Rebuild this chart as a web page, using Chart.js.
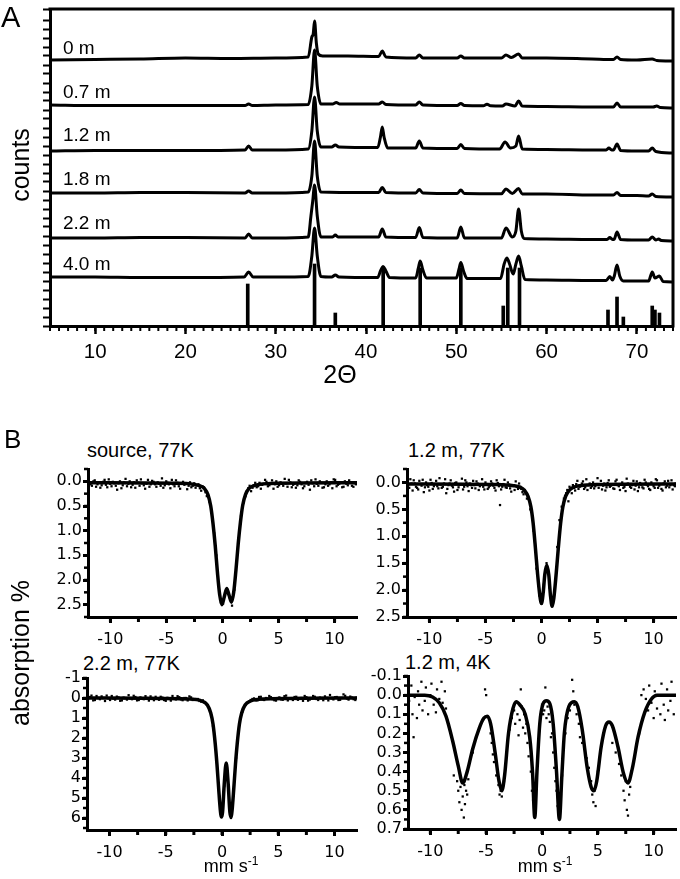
<!DOCTYPE html>
<html>
<head>
<meta charset="utf-8">
<script src="https://cdn.jsdelivr.net/npm/chart.js@4.4.1/dist/chart.umd.min.js"></script>
<style>
body { margin: 0; background: #fff; }
#fig { position: relative; width: 680px; height: 879px; overflow: hidden; font-family: "Liberation Sans", Arial, sans-serif; color: #000; }
#fig canvas { position: absolute; }
.t { position: absolute; line-height: 1; white-space: nowrap; transform: translateY(-50%); }
.c { position: absolute; line-height: 1; white-space: nowrap; transform: translate(-50%, -50%); }
.v { position: absolute; line-height: 1; white-space: nowrap; transform: translate(-50%, -50%) rotate(-90deg); }
.unit { position: absolute; line-height: 1; white-space: nowrap; transform: translate(-50%, -50%); font-size: 18px; z-index: 2; }
.unit sup { font-size: 12px; }
</style>
</head>
<body>
<div id="fig">
  <canvas id="xrd" width="680" height="395" style="left:0;top:0"></canvas>

  <div class="t" style="left:1px;top:17px;font-size:29px">A</div>
  <div class="v" style="left:20px;top:165px;font-size:25px">counts</div>
  <div class="c" style="left:340px;top:374px;font-size:25px">2&Theta;</div>
  <div class="t" style="left:63px;top:47px;font-size:19px">0 m</div>
  <div class="t" style="left:63px;top:91px;font-size:19px">0.7 m</div>
  <div class="t" style="left:63px;top:134px;font-size:19px">1.2 m</div>
  <div class="t" style="left:63px;top:178px;font-size:19px">1.8 m</div>
  <div class="t" style="left:63px;top:222px;font-size:19px">2.2 m</div>
  <div class="t" style="left:63px;top:263px;font-size:19px">4.0 m</div>

  <div class="t" style="left:4px;top:439px;font-size:26px">B</div>
  <div class="v" style="left:20px;top:653px;font-size:25px">absorption %</div>
  <div class="t" style="left:87px;top:450px;font-size:20px">source, 77K</div>
  <div class="t" style="left:408px;top:450px;font-size:20px">1.2 m, 77K</div>
  <div class="t" style="left:83px;top:663px;font-size:20px">2.2 m, 77K</div>
  <div class="t" style="left:405px;top:662px;font-size:20px">1.2 m, 4K</div>
  <div class="unit" style="left:231px;top:865px">mm s<sup>-1</sup></div>
  <div class="unit" style="left:545px;top:865px">mm s<sup>-1</sup></div>
</div>

<script>
// ---------- Panel A: XRD patterns (2theta, offset counts) ----------
const xrd0m = [[5,266],[10,266.5],[15,267],[20,268],[25,267.5],[30,268],[33.6,269],[34.0,289],[34.15,292],[34.3,305],[34.5,283],[34.7,272],[35.2,270],[38,270],[41.4,269.5],[41.8,275],[42.2,269],[45.5,268],[45.9,271],[46.3,268],[50.1,268],[50.5,270],[50.9,268],[55.0,268],[55.5,271],[56.1,268.5],[56.9,272],[57.3,268],[60,268],[65,267],[67.4,266.5],[67.8,269],[68.2,266.5],[70,266],[71.7,267],[72.2,265.5],[74,265]];
const xrd07m = [[5,221],[10,220.5],[15,220.5],[20,220.5],[26.6,220.5],[27,222],[27.4,220.5],[30,221],[33.6,221.5],[34.0,240],[34.3,276],[34.6,240],[35.0,222],[36.3,222],[36.7,223.5],[37.1,222],[41.4,222],[41.8,224],[42.2,221.5],[45.5,221],[45.9,224],[46.3,221],[50.1,220.5],[50.5,222.5],[50.9,220.5],[53.0,220.3],[53.4,221.8],[53.8,220.2],[55.1,220],[55.5,222],[56.5,220],[56.9,225],[57.3,220],[60,219.5],[65,219],[67.4,219],[67.8,223],[68.2,219],[70,219],[71.8,219],[72.2,220],[72.6,218.5],[74,218]];
const xrd12m = [[5,175],[10,175.5],[15,175.5],[20,175.5],[26.6,176],[27,180],[27.4,176],[30,176],[33.6,177],[34.0,195],[34.3,229],[34.6,195],[35.0,179],[36.2,179],[36.6,181],[37.0,179],[41.3,178.5],[41.6,189],[41.8,199],[42.0,189],[42.4,178],[45.5,178],[45.9,185],[46.3,178],[50.1,177.5],[50.5,181.5],[50.9,177.5],[54.8,177],[55.4,184],[56.0,178],[56.6,180],[56.9,190],[57.3,177],[60,176.5],[65,176],[66.6,176],[66.9,178],[67.2,176],[67.4,176],[67.8,182],[68.2,175.5],[70,175],[71.3,175],[71.7,178],[72.1,174.5],[74,173]];
const xrd18m = [[5,133],[10,133],[15,133.5],[20,133.5],[26.6,133],[27,135],[27.4,133],[30,133],[33.6,134],[34.0,150],[34.3,185],[34.6,150],[35.0,134],[40,133.5],[41.4,133.5],[41.8,138.5],[42.2,133.5],[45.5,133],[45.9,136.5],[46.3,133],[50.1,132.5],[50.5,136],[50.9,132.5],[55.0,132.3],[55.5,137],[56.2,132.5],[56.9,137.5],[57.3,132],[60,132],[65,131],[67.4,131],[67.8,133.5],[68.2,130.5],[70,130.5],[71.3,130],[71.7,132],[72.1,129.5],[74,129]];
const xrd22m = [[5,88],[10,88],[15,88.5],[20,88.5],[26.6,88],[27,92],[27.4,88],[30,88],[33.6,89],[33.9,110],[34.1,125],[34.3,141],[34.6,110],[35.0,89],[36.3,89],[36.6,91],[36.9,89],[41.4,89],[41.8,97],[42.2,89],[45.5,88.5],[45.9,98.5],[46.3,88.5],[50.1,88],[50.5,99],[50.9,88],[55.0,88],[55.5,98],[56.2,89],[56.6,95],[56.9,117],[57.2,95],[57.5,87.5],[60,87],[65,86.5],[66.7,86.5],[67.0,88.5],[67.3,86.5],[67.5,87],[67.8,94],[68.2,86.5],[70,86],[71.3,86],[71.7,89],[72.1,86],[72.4,87],[72.7,85.5],[74,85]];
const xrd40m = [[5,49],[10,49],[15,48.5],[20,48.5],[26.5,49],[27,54],[27.5,49],[30,49],[33.6,49.5],[34.0,70],[34.3,98],[34.6,70],[35.0,49.5],[36.2,49],[36.6,51],[37.0,49],[41.3,48.5],[41.6,55],[41.9,59.5],[42.2,55],[42.6,48.5],[45.5,48],[45.8,58],[46.0,65],[46.3,56],[46.7,48],[50.0,48],[50.3,57],[50.5,63.5],[50.8,55],[51.2,47.5],[54.9,47.5],[55.3,62],[55.6,68],[55.9,62],[56.3,52],[56.6,62],[56.9,70],[57.2,60],[57.6,46.5],[60,46],[65,45.5],[66.6,45.5],[67.0,49.5],[67.3,46],[67.5,50],[67.8,61],[68.1,50],[68.5,45],[70,45],[71.3,45],[71.7,54],[72.0,48],[72.5,50],[72.9,44.5],[74,44]];
const xrdTraces = [xrd0m, xrd07m, xrd12m, xrd18m, xrd22m, xrd40m];

// reference pattern (stick positions and intensities)
const refPos = [26.9, 34.3, 36.6, 41.9, 46.0, 50.5, 55.2, 55.7, 57.0, 66.8, 67.8, 68.5, 71.7, 72.0, 72.5];
const refInt = [42, 62, 13, 58, 58, 58, 20, 58, 58, 16, 29, 9, 20, 16, 13];

const xTicksA = [10, 20, 30, 40, 50, 60, 70];

// ---------- Panel B: Moessbauer spectra ----------
const xTicksB = [-10, -5, 0, 5, 10];
const yTicks1 = [0, 0.5, 1, 1.5, 2, 2.5];
const yTicks2 = [0, 0.5, 1, 1.5, 2, 2.5];
const yTicks3 = [-1, 0, 1, 2, 3, 4, 5, 6];
const yTicks4 = [-0.1, 0, 0.1, 0.2, 0.3, 0.4, 0.5, 0.6, 0.7];

const fit1V = [-12,-4,-2.6,-2.0,-1.6,-1.3,-1.05,-0.85,-0.65,-0.45,-0.25,-0.05,0.15,0.375,0.6,0.8,1.0,1.2,1.4,1.6,1.8,2.05,2.35,2.75,3.35,4.75,12];
const fit1A = [0.03,0.04,0.06,0.09,0.15,0.27,0.5,0.85,1.3,1.85,2.3,2.5,2.35,2.17,2.32,2.45,2.25,1.8,1.27,0.83,0.49,0.27,0.15,0.09,0.06,0.04,0.03];
const pts1 = [[-11.9,0.03],[-11.65,0.09],[-11.4,-0.02],[-11.15,0.06],[-10.9,0.13],[-10.65,0.01],[-10.4,0.07],[-10.15,-0.04],[-9.9,0.1],[-9.65,0.04],[-9.4,0.17],[-9.15,0.0],[-8.9,0.08],[-8.65,-0.05],[-8.4,0.05],[-8.15,0.12],[-7.9,0.02],[-7.65,-0.02],[-7.4,0.09],[-7.15,0.04],[-6.9,0.15],[-6.65,-0.03],[-6.4,0.06],[-6.15,0.01],[-5.9,0.11],[-5.65,0.05],[-5.4,-0.06],[-5.15,0.08],[-4.9,0.03],[-4.65,0.14],[-4.4,0.06],[-4.15,-0.02],[-3.9,0.1],[-3.65,0.04],[-3.4,0.07],[-3.15,0.16],[-2.9,0.02],[-2.65,0.09],[-2.4,0.13],[-2.15,0.06],[-1.9,0.19],[-1.65,0.12],
  [-11.78,0.06],[-11.52,0.0],[-11.28,0.11],[-11.02,0.02],[-10.78,0.08],[-10.52,-0.03],[-10.28,0.12],[-10.02,0.05],[-9.78,0.01],[-9.52,0.09],[-9.28,0.04],[-9.02,0.14],[-8.78,0.02],[-8.52,0.1],[-8.28,0.0],[-8.02,0.07],[-7.78,0.13],[-7.52,0.03],[-7.28,-0.04],[-7.02,0.08],[-6.78,0.05],[-6.52,0.11],[-6.28,-0.01],[-6.02,0.06],[-5.78,0.02],[-5.52,0.09],[-5.28,0.13],[-5.02,0.0],[-4.78,0.06],[-4.52,-0.03],[-4.28,0.1],[-4.02,0.03],[-3.78,0.15],[-3.52,0.01],[-3.28,0.05],[-3.02,0.09],[-2.78,0.12],[-2.52,0.04],[-2.28,0.08],[-2.02,0.14],[-1.78,0.1],[-1.52,0.22],
  [-1.4,0.3],[-1.15,0.42],[-0.95,0.62],[-0.75,1.05],[-0.55,1.5],[-0.35,2.05],[-0.15,2.45],[0.05,2.48],[0.25,2.25],[0.45,2.2],[0.65,2.35],[0.85,2.52],[1.05,2.2],[1.25,1.65],[1.45,1.15],[1.65,0.7],[1.85,0.42],[2.05,0.3],
  [2.3,0.14],[2.55,0.2],[2.8,0.08],[3.05,0.12],[3.3,0.03],[3.55,0.07],[3.8,-0.03],[4.05,0.1],[4.3,0.04],[4.55,0.15],[4.8,0.0],[5.05,0.08],[5.3,0.05],[5.55,-0.05],[5.8,0.11],[6.05,0.02],[6.3,0.07],[6.55,0.13],[6.8,-0.02],[7.05,0.06],[7.3,0.1],[7.55,0.01],[7.8,0.17],[8.05,0.04],[8.3,-0.04],[8.55,0.09],[8.8,0.03],[9.05,0.12],[9.3,0.0],[9.55,0.06],[9.8,0.14],[10.05,-0.03],[10.3,0.07],[10.55,0.02],[10.8,0.11],[11.05,0.05],[11.3,-0.02],[11.55,0.09],[11.8,0.04],
  [2.18,0.2],[2.42,0.09],[2.68,0.13],[2.92,0.03],[3.18,0.1],[3.42,0.15],[3.68,0.05],[3.92,0.01],[4.18,0.08],[4.42,-0.02],[4.68,0.06],[4.92,0.11],[5.18,0.02],[5.42,0.09],[5.68,0.04],[5.92,-0.03],[6.18,0.12],[6.42,0.05],[6.68,0.08],[6.92,0.01],[7.18,0.14],[7.42,0.03],[7.68,0.07],[7.92,-0.02],[8.18,0.1],[8.42,0.05],[8.68,0.0],[8.92,0.13],[9.18,0.06],[9.42,0.09],[9.68,0.02],[9.92,-0.04],[10.18,0.1],[10.42,0.05],[10.68,0.12],[10.92,0.0],[11.18,0.08],[11.42,0.03],[11.68,0.11],[11.92,0.06]];

const fit2V = [-12,-4,-2.5,-1.9,-1.5,-1.2,-0.95,-0.75,-0.55,-0.35,-0.15,0.0,0.15,0.3,0.475,0.65,0.8,0.95,1.1,1.3,1.5,1.7,1.9,2.15,2.45,2.85,3.45,4.95,12];
const fit2A = [0.03,0.04,0.06,0.09,0.15,0.26,0.45,0.75,1.2,1.7,2.1,2.25,2.05,1.7,1.54,1.72,2.1,2.3,2.15,1.72,1.22,0.77,0.46,0.26,0.15,0.09,0.06,0.04,0.03];
const pts2 = [[-11.9,0.05],[-11.7,-0.06],[-11.5,0.15],[-11.3,0.02],[-11.1,0.1],[-10.9,-0.03],[-10.7,0.06],[-10.5,0.18],[-10.3,0.0],[-10.1,0.08],[-9.9,-0.05],[-9.7,0.12],[-9.5,0.03],[-9.3,0.07],[-9.1,-0.08],[-8.9,0.1],[-8.7,0.02],[-8.5,0.2],[-8.3,0.05],[-8.1,-0.04],[-7.9,0.09],[-7.7,0.01],[-7.5,0.14],[-7.3,0.04],[-7.1,-0.07],[-6.9,0.08],[-6.7,0.0],[-6.5,0.16],[-6.3,0.05],[-6.1,-0.03],[-5.9,0.11],[-5.7,0.02],[-5.5,0.07],[-5.3,-0.06],[-5.1,0.13],[-4.9,0.03],[-4.7,0.09],[-4.5,-0.02],[-4.3,0.06],[-4.1,0.15],[-3.9,0.01],[-3.7,0.42],[-3.5,0.08],[-3.3,-0.05],[-3.1,0.1],[-2.9,0.04],[-2.7,0.17],[-2.5,0.06],[-2.3,-0.02],[-2.1,0.12],[-1.9,0.08],[-1.7,0.18],[-1.5,0.14],[-1.3,0.3],
  [-11.8,0.1],[-11.6,0.02],[-11.4,-0.04],[-11.2,0.08],[-11.0,0.13],[-10.8,0.03],[-10.6,-0.05],[-10.4,0.09],[-10.2,0.05],[-10.0,0.15],[-9.8,0.01],[-9.6,0.07],[-9.4,-0.03],[-9.2,0.11],[-9.0,0.04],[-8.8,0.08],[-8.6,-0.06],[-8.4,0.12],[-8.2,0.02],[-8.0,0.06],[-7.8,0.17],[-7.6,0.0],[-7.4,0.09],[-7.2,0.03],[-7.0,0.13],[-6.8,-0.04],[-6.6,0.07],[-6.4,0.02],[-6.2,0.1],[-6.0,0.05],[-5.8,-0.02],[-5.6,0.14],[-5.4,0.04],[-5.2,0.08],[-5.0,0.0],[-4.8,0.12],[-4.6,0.06],[-4.4,0.02],[-4.2,0.1],[-4.0,-0.04],[-3.8,0.07],[-3.6,0.13],[-3.4,0.03],[-3.2,0.09],[-3.0,0.0],[-2.8,0.11],[-2.6,0.05],[-2.4,0.14],[-2.2,0.08],[-2.0,0.02],[-1.8,0.12],[-1.6,0.22],[-1.4,0.2],
  [-1.0,0.5],[-0.7,0.9],[-0.45,1.6],[-0.2,2.1],[0.0,2.25],[0.2,1.9],[0.45,1.5],[0.7,1.95],[0.95,2.3],[1.15,2.0],[1.4,1.2],[1.6,0.7],[1.8,0.45],[2.0,0.3],
  [2.2,0.2],[2.4,0.35],[2.6,0.12],[2.8,0.05],[3.0,0.15],[3.2,-0.03],[3.4,0.08],[3.6,0.02],[3.8,0.12],[4.0,-0.06],[4.2,0.05],[4.4,0.1],[4.6,0.0],[4.8,0.07],[5.0,-0.08],[5.2,0.04],[5.4,0.13],[5.6,0.02],[5.8,0.09],[6.0,-0.04],[6.2,0.06],[6.4,0.11],[6.6,-0.02],[6.8,0.05],[7.0,0.14],[7.2,0.0],[7.4,0.08],[7.6,-0.07],[7.8,0.03],[8.0,0.1],[8.2,-0.03],[8.4,0.06],[8.6,0.16],[8.8,0.01],[9.0,0.09],[9.2,-0.05],[9.4,0.04],[9.6,0.12],[9.8,0.0],[10.0,0.07],[10.2,-0.06],[10.4,0.1],[10.6,0.03],[10.8,0.15],[11.0,-0.02],[11.2,0.06],[11.4,0.09],[11.6,-0.04],[11.8,0.05],[11.95,0.02],
  [2.1,0.25],[2.3,0.14],[2.5,0.08],[2.7,0.2],[2.9,0.1],[3.1,0.03],[3.3,0.12],[3.5,0.05],[3.7,-0.02],[3.9,0.09],[4.1,0.14],[4.3,0.02],[4.5,0.07],[4.7,0.11],[4.9,0.03],[5.1,0.1],[5.3,-0.03],[5.5,0.06],[5.7,0.15],[5.9,0.01],[6.1,0.08],[6.3,0.04],[6.5,0.12],[6.7,-0.05],[6.9,0.07],[7.1,0.03],[7.3,0.1],[7.5,0.16],[7.7,0.02],[7.9,0.08],[8.1,0.05],[8.3,0.13],[8.5,-0.02],[8.7,0.09],[8.9,0.04],[9.1,0.11],[9.3,0.0],[9.5,0.07],[9.7,0.14],[9.9,0.03],[10.1,0.1],[10.3,-0.04],[10.5,0.06],[10.7,0.12],[10.9,0.02],[11.1,0.09],[11.3,-0.03],[11.5,0.05],[11.7,0.13],[11.9,0.07]];

const fit3V = [-12,-3,-1.8,-1.3,-1.0,-0.8,-0.6,-0.45,-0.3,-0.15,-0.05,0.05,0.2,0.375,0.55,0.7,0.8,0.9,1.05,1.2,1.35,1.55,1.75,2.05,2.55,3.75,12];
const fit3A = [0,0.05,0.15,0.35,0.75,1.3,2.3,3.3,4.5,5.6,5.95,5.7,4.3,3.25,4.3,5.7,5.95,5.6,4.5,3.3,2.3,1.3,0.75,0.35,0.15,0.05,0];
const pts3 = [[-11.9,0.05],[-11.6,-0.12],[-11.3,0.1],[-11.0,0.0],[-10.7,-0.08],[-10.4,0.15],[-10.1,0.02],[-9.8,-0.1],[-9.5,0.08],[-9.2,-0.03],[-8.9,0.12],[-8.6,0.0],[-8.3,-0.14],[-8.0,0.06],[-7.7,-0.05],[-7.4,0.1],[-7.1,0.02],[-6.8,-0.09],[-6.5,0.13],[-6.2,0.0],[-5.9,-0.06],[-5.6,0.09],[-5.3,-0.02],[-5.0,0.14],[-4.7,0.03],[-4.4,-0.1],[-4.1,0.07],[-3.8,-0.04],[-3.5,0.11],[-3.2,0.0],[-2.9,-0.08],[-2.6,0.1],[-2.3,0.05],[-2.0,0.15],[-1.7,0.12],[-1.4,0.3],[-1.1,0.6],[-0.8,1.4],[-0.5,3.0],[-0.25,4.9],[0.0,5.9],[0.2,4.4],[0.4,3.3],[0.6,4.6],[0.8,6.0],[1.0,4.9],[1.25,3.0],[1.5,1.6],[1.8,0.7],[2.1,0.35],[2.4,0.18],[2.7,0.05],[3.0,0.12],[3.3,-0.05],[3.6,0.08],[3.9,0.0],[4.2,-0.1],[4.5,0.06],[4.8,0.13],[5.1,-0.03],[5.4,0.09],[5.7,-0.12],[6.0,0.04],[6.3,0.1],[6.6,-0.06],[6.9,0.02],[7.2,0.14],[7.5,-0.04],[7.8,0.08],[8.1,-0.1],[8.4,0.05],[8.7,-0.02],[9.0,0.11],[9.3,0.0],[9.6,-0.15],[9.9,0.07],[10.2,-0.05],[10.5,0.09],[10.8,-0.18],[11.1,0.03],[11.4,-0.07],[11.7,0.06],[11.95,-0.02],
  [-11.75,-0.05],[-11.45,0.12],[-11.15,-0.1],[-10.85,0.06],[-10.55,0.0],[-10.25,-0.12],[-9.95,0.1],[-9.65,0.03],[-9.35,-0.07],[-9.05,0.14],[-8.75,-0.02],[-8.45,0.08],[-8.15,0.02],[-7.85,-0.11],[-7.55,0.12],[-7.25,-0.03],[-6.95,0.06],[-6.65,0.0],[-6.35,-0.08],[-6.05,0.11],[-5.75,0.03],[-5.45,-0.06],[-5.15,0.1],[-4.85,-0.01],[-4.55,0.13],[-4.25,0.02],[-3.95,-0.09],[-3.65,0.07],[-3.35,0.0],[-3.05,0.12],[-2.75,-0.03],[-2.45,0.09],[-2.15,0.05],[-1.85,0.18],[-1.55,0.2],
  [1.95,0.5],[2.25,0.25],[2.55,0.1],[2.85,0.02],[3.15,0.12],[3.45,-0.06],[3.75,0.1],[4.05,0.03],[4.35,-0.04],[4.65,0.11],[4.95,0.0],[5.25,0.07],[5.55,-0.09],[5.85,0.12],[6.15,0.02],[6.45,-0.05],[6.75,0.09],[7.05,0.0],[7.35,-0.1],[7.65,0.13],[7.95,0.03],[8.25,-0.06],[8.55,0.1],[8.85,0.0],[9.15,-0.08],[9.45,0.12],[9.75,0.02],[10.05,-0.04],[10.35,0.1],[10.65,0.0],[10.95,-0.11],[11.25,0.08],[11.55,-0.02],[11.85,0.1]];

const fit4V = [-12,-10.5,-9.8,-9.2,-8.6,-8.0,-7.5,-7.1,-6.7,-6.2,-5.6,-5.2,-4.9,-4.6,-4.2,-3.85,-3.6,-3.35,-3.0,-2.6,-2.3,-2.0,-1.5,-1.1,-0.85,-0.65,-0.45,-0.2,0.1,0.4,0.7,1.0,1.3,1.56,1.78,2.0,2.4,2.9,3.2,3.6,4.05,4.4,4.65,4.9,5.3,5.7,6.0,6.3,6.8,7.3,7.7,8.1,8.6,9.2,9.8,10.3,12];
const fit4A = [0,0,0.01,0.04,0.11,0.24,0.37,0.46,0.4,0.28,0.17,0.12,0.11,0.15,0.3,0.45,0.5,0.42,0.2,0.07,0.035,0.05,0.1,0.22,0.4,0.64,0.4,0.15,0.045,0.03,0.045,0.15,0.4,0.65,0.42,0.2,0.06,0.035,0.06,0.18,0.38,0.48,0.5,0.45,0.27,0.16,0.14,0.16,0.27,0.41,0.46,0.38,0.22,0.09,0.02,0,0];
const pts4 = [[-11.9,0.03],[-11.7,-0.05],[-11.6,0.1],[-11.5,0.22],[-11.4,0.01],[-11.2,0.12],[-11.1,-0.02],[-11.0,0.05],[-10.8,-0.07],[-10.7,0.08],[-10.5,0.03],[-10.4,-0.04],[-10.2,0.1],[-10.0,0.0],[-9.9,-0.06],[-9.7,0.05],[-9.5,0.09],[-9.4,-0.03],[-9.2,0.02],[-9.0,-0.07],[-8.9,0.04],[-8.7,-0.02],[-8.6,0.07],
  [-7.9,0.42],[-7.6,0.45],[-7.5,0.5],[-7.4,0.56],[-7.3,0.48],[-7.2,0.6],[-7.1,0.53],[-7.0,0.64],[-6.95,0.47],[-6.9,0.57],[-6.8,0.5],[-6.7,0.52],[-6.6,0.44],[-6.2,0.3],[-5.9,0.22],[-5.1,-0.03],[-5.0,0.0],
  [-4.6,0.2],[-4.5,0.25],[-4.4,0.31],[-4.3,0.35],[-4.1,0.42],[-3.9,0.47],[-3.8,0.52],[-3.7,0.5],[-3.6,0.53],[-3.4,0.45],
  [-2.9,0.18],[-2.7,0.12],[-2.5,0.08],[-2.4,0.15],[-2.2,0.1],[-2.1,0.21],[-2.0,0.13],[-1.9,-0.03],[-1.8,0.06],[-1.7,0.17],[-1.6,0.1],[-1.5,0.2],[-1.4,0.15],[-1.3,0.25],[-1.2,0.32],
  [-1.0,0.4],[-0.9,0.5],[-0.8,0.55],[-0.7,0.62],[-0.6,0.6],[-0.5,0.48],[-0.4,0.35],
  [-0.2,0.18],[-0.1,0.1],[0.0,0.05],[0.1,0.1],[0.2,0.08],[0.3,-0.04],[0.4,0.12],[0.5,0.06],[0.6,0.1],[0.7,0.14],[0.8,0.22],[0.9,0.2],[1.0,0.3],
  [1.1,0.38],[1.2,0.45],[1.3,0.5],[1.4,0.58],[1.5,0.62],[1.6,0.6],[1.7,0.5],[1.8,0.42],
  [2.1,0.2],[2.3,0.12],[2.5,0.08],[2.7,-0.08],[2.8,-0.02],[2.9,0.05],[3.1,0.1],[3.3,0.15],[3.4,0.22],[3.6,0.25],[3.8,0.28],
  [4.0,0.33],[4.2,0.38],[4.4,0.45],[4.5,0.52],[4.6,0.56],[4.7,0.5],[4.8,0.58],[5.0,0.4],
  [5.5,0.2],[6.3,0.25],[6.6,0.3],[6.9,0.36],
  [7.1,0.42],[7.3,0.5],[7.4,0.55],[7.5,0.45],[7.6,0.6],[7.7,0.63],[7.8,0.52],[7.9,0.48],[8.0,0.4],[8.2,0.35],
  [8.7,0.2],[8.9,0.0],[9.1,-0.03],[9.3,0.02],[9.5,0.08],[9.6,-0.05],[9.8,0.04],[10.0,0.12],[10.1,-0.02],[10.3,0.07],[10.4,0.0],[10.6,0.1],[10.7,-0.06],[10.9,0.05],[11.0,0.13],[11.2,-0.03],[11.3,0.08],[11.5,0.03],[11.6,-0.07],[11.8,0.1],[11.9,0.0]];

// ---------- helpers ----------
Chart.defaults.font.family = '"Liberation Sans", Arial, sans-serif';
Chart.defaults.color = '#000';

// small extra ticks between the labelled ones
const minorTicks = {
  id: 'minorTicks',
  afterDraw(chart, args, opts) {
    const ctx = chart.ctx;
    ['x', 'y'].forEach(id => {
      const m = opts[id], s = chart.scales[id];
      if (!m || !s) return;
      ctx.save();
      ctx.strokeStyle = '#000';
      ctx.lineWidth = m.width || 2;
      const first = Math.ceil((s.min - 1e-9) / m.step);
      for (let k = first; k * m.step <= s.max + 1e-9; k++) {
        const p = s.getPixelForValue(k * m.step);
        ctx.beginPath();
        if (s.isHorizontal()) { ctx.moveTo(p, s.top); ctx.lineTo(p, s.top + m.len); }
        else { ctx.moveTo(s.right, p); ctx.lineTo(s.right - m.len, p); }
        ctx.stroke();
      }
      ctx.restore();
    });
  }
};

// top + right border for panel A
const frame = {
  id: 'frame',
  afterDraw(chart, args, opts) {
    if (!opts.on) return;
    const a = chart.chartArea, ctx = chart.ctx;
    ctx.save();
    ctx.strokeStyle = '#000';
    ctx.lineWidth = 3;
    ctx.beginPath();
    ctx.moveTo(a.left - 1.5, a.top);
    ctx.lineTo(a.right, a.top);
    ctx.lineTo(a.right, a.bottom + 1.5);
    ctx.stroke();
    ctx.restore();
  }
};

const toXY = arr => arr.map(p => ({ x: p[0], y: p[1] }));
const fixedTicks = vals => s => { s.ticks = vals.map(v => ({ value: v })); };

// ---------- Panel A ----------
const xrdSets = xrdTraces.map(t => ({
  type: 'line',
  data: toXY(t),
  borderColor: '#000',
  borderWidth: 3,
  pointRadius: 0,
  cubicInterpolationMode: 'monotone',
  fill: false
}));
xrdSets.push({
  type: 'bar',
  data: refPos.map((x, i) => ({ x: x, y: refInt[i] })),
  backgroundColor: '#000',
  barThickness: 3
});

new Chart(document.getElementById('xrd'), {
  type: 'line',
  data: { datasets: xrdSets },
  plugins: [minorTicks, frame],
  options: {
    responsive: false,
    animation: false,
    layout: { padding: { top: 9, right: 7, left: 0, bottom: 0 } },
    plugins: {
      legend: { display: false },
      tooltip: { enabled: false },
      frame: { on: true },
      minorTicks: { x: { step: 1, len: 5, width: 2 } }
    },
    scales: {
      x: {
        type: 'linear', min: 5, max: 74, offset: false,
        afterBuildTicks: fixedTicks(xTicksA),
        afterFit: s => { s.height = 69; },
        border: { width: 3, color: '#000' },
        grid: { drawOnChartArea: false, offset: false, tickLength: 8, tickWidth: 2.5, tickColor: '#000' },
        ticks: { autoSkip: false, maxRotation: 0, padding: 6, font: { size: 20.5 } }
      },
      y: {
        type: 'linear', min: 0, max: 317,
        afterFit: s => { s.width = 50; },
        border: { width: 3, color: '#000' },
        grid: { drawOnChartArea: false, tickLength: 7, tickWidth: 2, tickColor: '#000' },
        ticks: { stepSize: 9, autoSkip: false, display: false }
      }
    }
  }
});

// ---------- Panel B ----------
function moss(box, fitV, fitA, pts, yMin, yMax, yTicks, yMinor, dec) {
  const cv = document.createElement('canvas');
  const L = 60, T = 12, R = 2, Bt = 36;
  cv.width = box.r - box.l + L + R;
  cv.height = box.b - box.t + T + Bt;
  cv.style.left = (box.l - L) + 'px';
  cv.style.top = (box.t - T) + 'px';
  document.getElementById('fig').appendChild(cv);
  new Chart(cv, {
    type: 'scatter',
    data: {
      datasets: [
        { data: toXY(pts), pointStyle: 'rect', pointRadius: 1.6, backgroundColor: '#000', borderWidth: 0, showLine: false },
        { data: fitV.map((v, i) => ({ x: v, y: fitA[i] })), showLine: true, borderColor: '#000', borderWidth: 3.5,
          pointRadius: 0, cubicInterpolationMode: 'monotone', fill: false }
      ]
    },
    plugins: [minorTicks],
    options: {
      responsive: false,
      animation: false,
      layout: { padding: { top: T, right: R, left: 0, bottom: 0 } },
      plugins: {
        legend: { display: false },
        tooltip: { enabled: false },
        minorTicks: { x: { step: 2.5, len: 5, width: 3 }, y: { step: yMinor, len: 4, width: 2.5 } }
      },
      scales: {
        x: {
          type: 'linear', min: -12, max: 12,
          afterBuildTicks: fixedTicks(xTicksB),
          afterFit: s => { s.height = Bt; },
          border: { width: 3, color: '#000' },
          grid: { drawOnChartArea: false, tickLength: 6, tickWidth: 3, tickColor: '#000' },
          ticks: { autoSkip: false, maxRotation: 0, padding: 7, font: { family: '"DejaVu Sans"', size: 16 } }
        },
        y: {
          type: 'linear', reverse: true, min: yMin, max: yMax,
          afterBuildTicks: fixedTicks(yTicks),
          afterFit: s => { s.width = L; },
          border: { width: 3, color: '#000' },
          grid: { drawOnChartArea: false, tickLength: 5, tickWidth: 3, tickColor: '#000' },
          ticks: {
            autoSkip: false, padding: 1,
            font: { family: '"DejaVu Sans"', size: 16 },
            callback: v => (Math.abs(v) < 1e-9 ? 0 : v).toFixed(dec)
          }
        }
      }
    }
  });
}

moss({ l: 88, t: 468.5, r: 359, b: 617 }, fit1V, fit1A, pts1, -0.25, 2.75, yTicks1, 0.25, 1);
moss({ l: 407, t: 468.5, r: 678, b: 617 }, fit2V, fit2A, pts2, -0.25, 2.5, yTicks2, 0.25, 1);
moss({ l: 87, t: 678, r: 359, b: 830 }, fit3V, fit3A, pts3, -1, 6.6, yTicks3, 0.5, 0);
moss({ l: 408, t: 676, r: 678, b: 829 }, fit4V, fit4A, pts4, -0.1, 0.7, yTicks4, 0.05, 1);
</script>
</body>
</html>
